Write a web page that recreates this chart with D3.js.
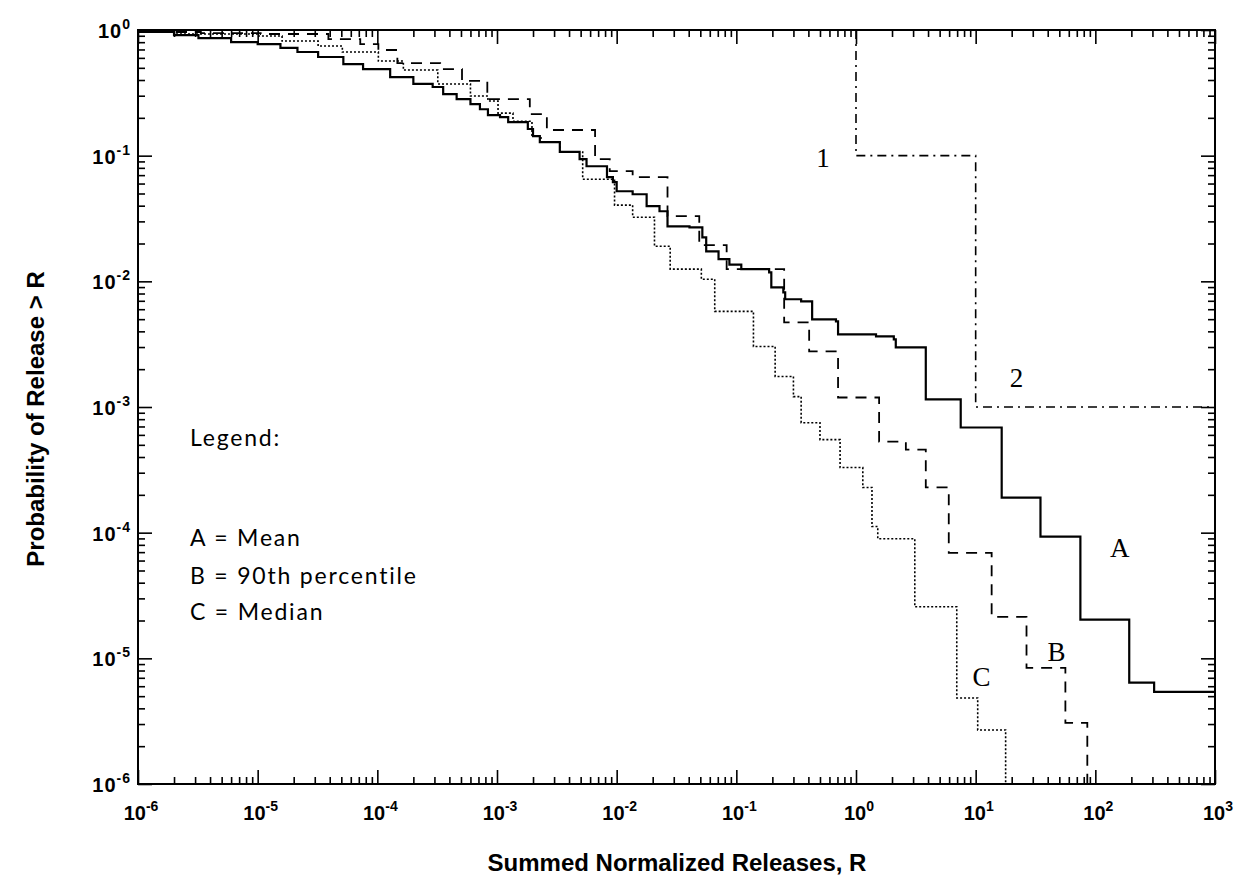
<!DOCTYPE html>
<html>
<head>
<meta charset="utf-8">
<script src="https://cdn.jsdelivr.net/npm/d3@7/dist/d3.min.js"></script>
<style>
  html, body { margin: 0; padding: 0; background: #fff; }
  svg { display: block; }
</style>
</head>
<body>
<svg id="chart" width="1241" height="887"></svg>
<script>
// ---------------- Data ----------------
const meanX = [1e-6, 2.0e-6, 3.2e-6, 6.0e-6, 1.0e-5, 1.55e-5, 2.15e-5, 3.2e-5, 5.2e-5, 7.6e-5,
  1.28e-4, 2.0e-4, 2.9e-4, 3.55e-4, 4.6e-4, 6.0e-4, 7.2e-4, 8.4e-4, 1.06e-3, 1.24e-3,
  1.81e-3, 2.0e-3, 2.28e-3, 3.35e-3, 4.9e-3, 5.6e-3, 8.3e-3, 9.3e-3, 1.0e-2, 1.36e-2,
  1.78e-2, 2.28e-2, 2.66e-2, 4.06e-2, 5.2e-2, 5.6e-2, 7.1e-2, 8.75e-2, 0.110, 0.188,
  0.196, 0.247, 0.256, 0.348, 0.43, 0.68, 0.708, 1.47, 2.07, 2.15,
  3.83, 7.5, 16.5, 34.8, 75, 192, 310, 1000];
const meanY = [0.964, 0.912, 0.863, 0.80, 0.773, 0.72, 0.668, 0.61, 0.536, 0.489,
  0.422, 0.372, 0.352, 0.309, 0.282, 0.257, 0.234, 0.21, 0.203, 0.185,
  0.163, 0.143, 0.128, 0.107, 0.0938, 0.0824, 0.0675, 0.0615, 0.0521, 0.0493,
  0.0396, 0.0361, 0.0274, 0.0269, 0.0224, 0.0173, 0.0150, 0.0136, 0.0125, 0.0118,
  0.00895, 0.00817, 0.0072, 0.00693, 0.00498, 0.0048, 0.00378, 0.00365, 0.00345, 0.00298,
  0.00115, 6.87e-4, 1.9e-4, 9.3e-5, 2.03e-5, 6.4e-6, 5.4e-6, 5.4e-6];

const p90X = [1e-6, 3.35e-6, 1.06e-5, 3.9e-5, 7.2e-5, 1.02e-4, 1.47e-4, 3.35e-4, 5.1e-4, 8.3e-4,
  1.88e-3, 2.61e-3, 6.6e-3, 8.75e-3, 1.36e-2, 2.66e-2, 4.9e-2, 8.3e-2, 0.251, 0.406,
  0.708, 1.56, 2.61, 3.83, 5.96, 13.6, 26.6, 56.2, 85.7];
const p90Y = [0.964, 0.946, 0.929, 0.847, 0.773, 0.693, 0.546, 0.489, 0.393, 0.282,
  0.214, 0.16, 0.0938, 0.0752, 0.0675, 0.033, 0.0194, 0.0125, 0.00471, 0.00277,
  0.00119, 5.3e-4, 4.58e-4, 2.29e-4, 6.9e-5, 2.14e-5, 8.4e-6, 3.06e-6, 1e-6];

const medX = [1e-6, 2.0e-6, 1e-5, 1.6e-5, 3.2e-5, 5.1e-5, 1.02e-4, 1.65e-4, 3.2e-4, 6.0e-4,
  8.4e-4, 1.02e-3, 1.36e-3, 1.96e-3, 2.33e-3, 3.35e-3, 5.2e-3, 9.6e-3, 1.36e-2, 2.07e-2,
  2.8e-2, 5.1e-2, 6.6e-2, 0.139, 0.211, 0.30, 0.348, 0.50, 0.736, 1.14,
  1.36, 1.52, 3.1, 6.95, 10.4, 17.8];
const medY = [0.964, 0.929, 0.895, 0.817, 0.746, 0.668, 0.566, 0.48, 0.372, 0.298,
  0.272, 0.218, 0.188, 0.143, 0.128, 0.107, 0.065, 0.0404, 0.0324, 0.019,
  0.0125, 0.0104, 0.00577, 0.00303, 0.00175, 0.00121, 7.5e-4, 5.5e-4, 3.3e-4, 2.29e-4,
  1.12e-4, 8.95e-5, 2.57e-5, 4.84e-6, 2.69e-6, 1e-6];

const limitX = [1, 1, 10, 10, 1000];
const limitY = [1, 0.1, 0.1, 0.001, 0.001];

const xTickExp = [-6, -5, -4, -3, -2, -1, 0, 1, 2, 3];
const yTickExp = [0, -1, -2, -3, -4, -5, -6];

const legendLines = ["Legend:", "A = Mean", "B = 90th percentile", "C = Median"];

const curveLabelText = ["1", "2", "A", "B", "C"];
const curveLabelX = [0.53, 21.9, 160, 47.4, 11.2];
const curveLabelY = [0.081, 1.44e-3, 6.4e-5, 9.5e-6, 6.0e-6];

// ---------------- Layout ----------------
const L = 138, R = 1215, T = 30, B = 784;
const svg = d3.select("#chart");
const x = d3.scaleLog().domain([1e-6, 1e3]).range([L, R]);
const y = d3.scaleLog().domain([1e-6, 1]).range([B, T]);

const majorsX = xTickExp.map(e => Math.pow(10, e));
const majorsY = yTickExp.map(e => Math.pow(10, e));
const minorsX = [], minorsY = [];
for (let e = -6; e < 3; e++) for (let m = 2; m <= 9; m++) minorsX.push(m * Math.pow(10, e));
for (let e = -6; e < 0; e++) for (let m = 2; m <= 9; m++) minorsY.push(m * Math.pow(10, e));

function styleAxis(g) {
  g.select(".domain").remove();
  g.selectAll("line").attr("stroke", "#000").attr("stroke-width", 1.6);
  g.selectAll("text").remove();
}
const MAJ = -14, MIN = -7;
svg.append("g").attr("transform", `translate(0,${B})`).call(d3.axisBottom(x).tickValues(majorsX).tickSize(MAJ).tickFormat("")).call(styleAxis);
svg.append("g").attr("transform", `translate(0,${B})`).call(d3.axisBottom(x).tickValues(minorsX).tickSize(MIN).tickFormat("")).call(styleAxis);
svg.append("g").attr("transform", `translate(0,${T})`).call(d3.axisTop(x).tickValues(majorsX).tickSize(MAJ).tickFormat("")).call(styleAxis);
svg.append("g").attr("transform", `translate(0,${T})`).call(d3.axisTop(x).tickValues(minorsX).tickSize(MIN).tickFormat("")).call(styleAxis);
svg.append("g").attr("transform", `translate(${L},0)`).call(d3.axisLeft(y).tickValues(majorsY).tickSize(MAJ).tickFormat("")).call(styleAxis);
svg.append("g").attr("transform", `translate(${L},0)`).call(d3.axisLeft(y).tickValues(minorsY).tickSize(MIN).tickFormat("")).call(styleAxis);
svg.append("g").attr("transform", `translate(${R},0)`).call(d3.axisRight(y).tickValues(majorsY).tickSize(MAJ).tickFormat("")).call(styleAxis);
svg.append("g").attr("transform", `translate(${R},0)`).call(d3.axisRight(y).tickValues(minorsY).tickSize(MIN).tickFormat("")).call(styleAxis);

svg.append("rect").attr("x", L).attr("y", T).attr("width", R - L).attr("height", B - T)
  .attr("fill", "none").attr("stroke", "#000").attr("stroke-width", 2);

// tick labels
const tickFont = "'Liberation Sans', Arial, sans-serif";
function powLabel(sel) {
  sel.each(function (e) {
    const t = d3.select(this);
    t.append("tspan").text("10");
    t.append("tspan").attr("dy", -9).attr("font-size", 14).text(e);
  });
}
svg.append("g").selectAll("text").data(xTickExp).join("text")
  .attr("x", e => x(Math.pow(10, e)) + 3)
  .attr("y", B + 36)
  .attr("text-anchor", "middle")
  .attr("font-family", tickFont).attr("font-weight", "bold").attr("font-size", 20)
  .call(powLabel);
svg.append("g").selectAll("text").data(yTickExp).join("text")
  .attr("x", L - 7)
  .attr("y", e => y(Math.pow(10, e)) + 8)
  .attr("text-anchor", "end")
  .attr("font-family", tickFont).attr("font-weight", "bold").attr("font-size", 20)
  .attr("letter-spacing", 1)
  .call(powLabel);

// axis titles
svg.append("text").attr("x", 677).attr("y", 871).attr("text-anchor", "middle")
  .attr("font-family", tickFont).attr("font-weight", "bold").attr("font-size", 24)
  .text("Summed Normalized Releases, R");
svg.append("text").attr("transform", `translate(44,${(T + B) / 2 + 12}) rotate(-90)`)
  .attr("text-anchor", "middle")
  .attr("font-family", tickFont).attr("font-weight", "bold").attr("font-size", 24)
  .text("Probability of Release > R");

// ---------------- Curves ----------------
svg.append("clipPath").attr("id", "plotclip").append("rect")
  .attr("x", L).attr("y", T - 1).attr("width", R - L).attr("height", B - T + 2);
const plot = svg.append("g").attr("clip-path", "url(#plotclip)");

const stepLine = d3.line().x(d => x(d[0])).y(d => y(d[1])).curve(d3.curveStepAfter);
const linLine = d3.line().x(d => x(d[0])).y(d => y(d[1]));

plot.append("path").datum(d3.zip(limitX, limitY)).attr("d", linLine)
  .attr("fill", "none").attr("stroke", "#000").attr("stroke-width", 1.6)
  .attr("stroke-dasharray", "9,5,2,5");

plot.append("path").datum(d3.zip(medX, medY)).attr("d", stepLine)
  .attr("fill", "none").attr("stroke", "#000").attr("stroke-width", 1.6)
  .attr("stroke-dasharray", "2,2");

plot.append("path").datum(d3.zip(p90X, p90Y)).attr("d", stepLine)
  .attr("fill", "none").attr("stroke", "#000").attr("stroke-width", 1.8)
  .attr("stroke-dasharray", "11,8");

plot.append("path").datum(d3.zip(meanX, meanY)).attr("d", stepLine)
  .attr("fill", "none").attr("stroke", "#000").attr("stroke-width", 2.2);

// curve labels
const serif = "'Liberation Serif', 'Times New Roman', serif";
svg.append("g").selectAll("text").data(curveLabelText).join("text")
  .attr("x", (d, i) => x(curveLabelX[i])).attr("y", (d, i) => y(curveLabelY[i]))
  .attr("text-anchor", "middle")
  .attr("font-family", serif).attr("font-size", 27)
  .text(d => d);

// legend
const legendY = [446, 546, 584, 620];
svg.append("g").selectAll("text").data(legendLines).join("text")
  .attr("x", 190).attr("y", (d, i) => legendY[i])
  .attr("font-family", "'Lato', 'DejaVu Sans', sans-serif").attr("font-weight", 400)
  .attr("fill", "#000")
  .attr("font-size", 23).attr("letter-spacing", 1.8)
  .text(d => d);
</script>
</body>
</html>
